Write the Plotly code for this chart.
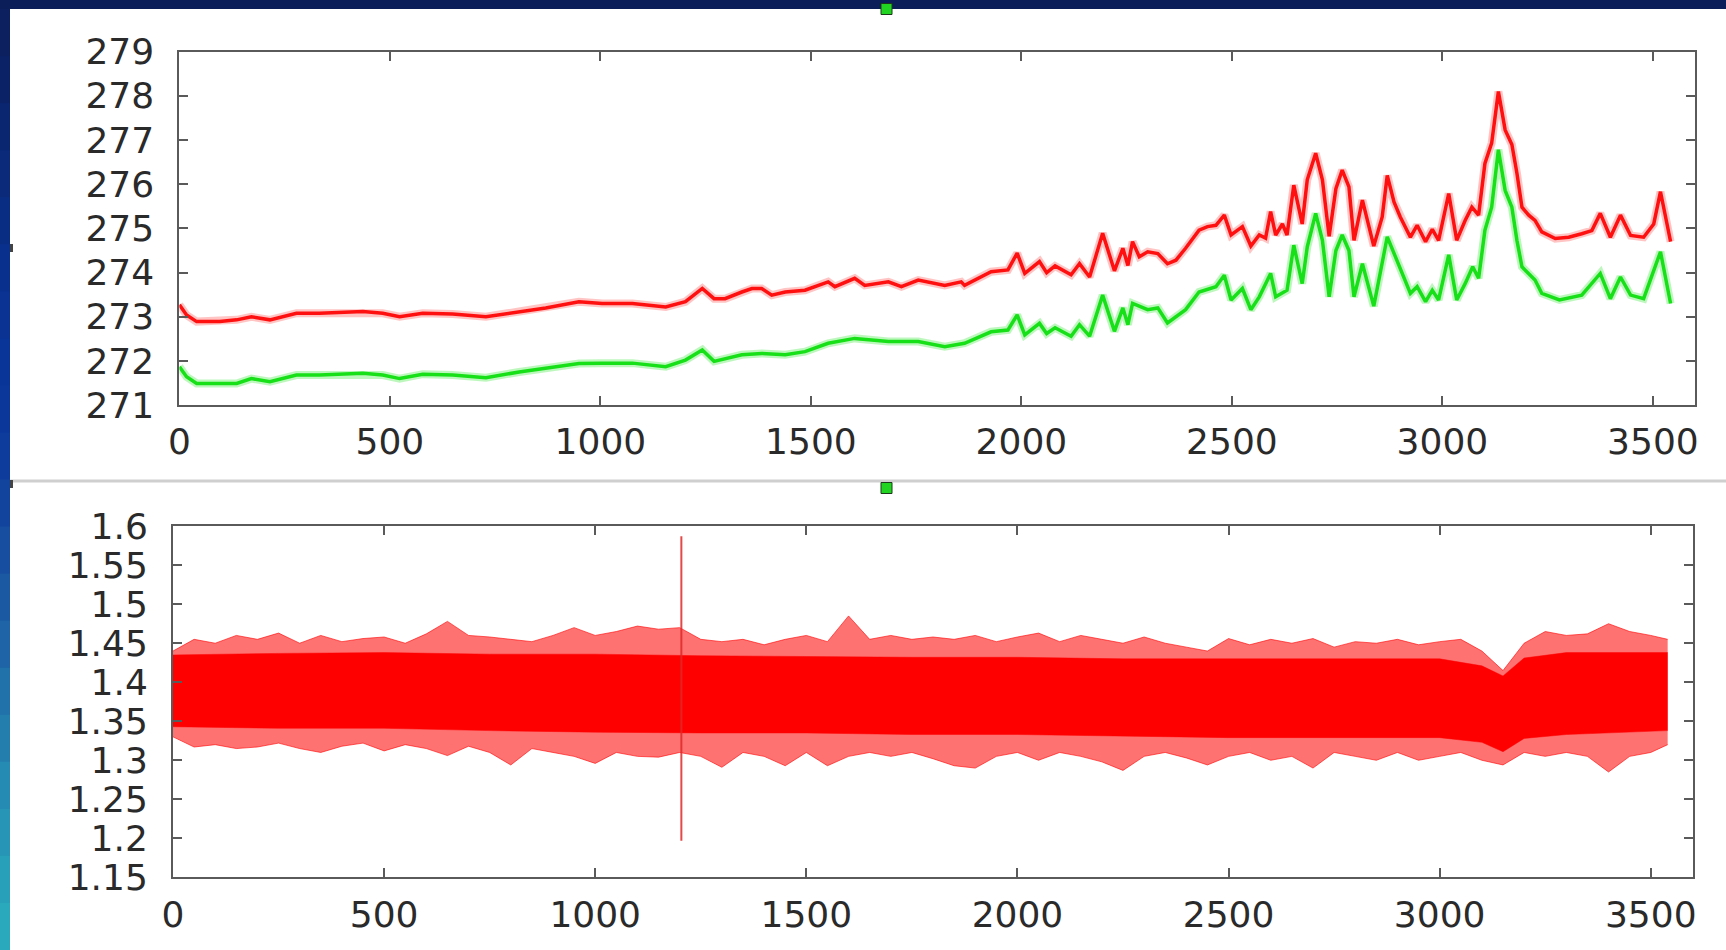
import plotly.graph_objects as go

# ---------------- data ----------------
red_x = [0, 17, 41, 96, 136, 171, 215, 278, 333, 436, 483, 523, 578, 649, 728, 807, 870, 949,
         1004, 1076, 1155, 1202, 1242, 1270, 1296, 1336, 1360, 1383, 1407, 1439, 1486, 1541, 1557,
         1604, 1628, 1684, 1715, 1755, 1818, 1857, 1865, 1928, 1968, 1990, 2008, 2043, 2060, 2080,
         2118, 2138, 2162, 2193, 2221, 2241, 2253, 2264, 2280, 2300, 2324, 2347, 2367, 2390, 2422,
         2442, 2462, 2482, 2498, 2525, 2545, 2565, 2580, 2592, 2604, 2620, 2631, 2647, 2667, 2679,
         2699, 2715, 2731, 2747, 2762, 2778, 2790, 2810, 2837, 2857, 2869, 2885, 2900, 2924, 2940,
         2960, 2976, 2991, 3015, 3034, 3054, 3070, 3086, 3101, 3117, 3133, 3149, 3165, 3177, 3189,
         3205, 3220, 3236, 3268, 3300, 3331, 3355, 3375, 3399, 3423, 3447, 3478, 3502, 3518, 3530, 3542]
red_y = [273.27, 273.04, 272.89, 272.89, 272.93, 273.0, 272.93, 273.08, 273.08, 273.12, 273.08, 273.0,
         273.08, 273.06, 273.0, 273.12, 273.2, 273.34, 273.3, 273.3, 273.22, 273.34, 273.64, 273.41,
         273.41, 273.56, 273.64, 273.64, 273.49, 273.56, 273.6, 273.79, 273.68, 273.87, 273.71, 273.79,
         273.68, 273.83, 273.71, 273.79, 273.71, 274.02, 274.06, 274.44, 273.98, 274.25, 274.0, 274.15,
         273.95, 274.2, 273.9, 274.89, 274.04, 274.55, 274.16, 274.7, 274.36, 274.47, 274.43, 274.2,
         274.28, 274.55, 274.96, 275.04, 275.07, 275.3, 274.85, 275.04, 274.6, 274.85, 274.78, 275.38,
         274.85, 275.1, 274.85, 275.98, 275.1, 276.1, 276.7, 276.1, 274.82, 275.9, 276.32, 275.94,
         274.73, 275.64, 274.6, 275.26, 276.2, 275.6, 275.26, 274.8, 275.07, 274.7, 274.98, 274.73,
         275.79, 274.73, 275.18, 275.48, 275.3, 276.47, 276.93, 278.1, 277.23, 276.9, 276.25, 275.48,
         275.3, 275.18, 274.92, 274.77, 274.8, 274.88, 274.95, 275.34, 274.8, 275.3, 274.84, 274.8,
         275.1, 275.83, 275.26, 274.7]

green_x = [0, 17, 41, 96, 136, 171, 215, 278, 333, 436, 483, 523, 578, 649, 728, 807, 870, 949,
           1004, 1076, 1155, 1202, 1242, 1270, 1336, 1383, 1439, 1486, 1541, 1604, 1684, 1755, 1818,
           1865, 1928, 1968, 1990, 2008, 2043, 2060, 2080, 2118, 2138, 2162, 2193, 2221, 2241, 2253,
           2264, 2300, 2324, 2347, 2390, 2422, 2462, 2482, 2498, 2525, 2545, 2565, 2592, 2604, 2631,
           2647, 2667, 2679, 2699, 2715, 2731, 2747, 2762, 2778, 2790, 2810, 2837, 2869, 2924, 2940,
           2960, 2976, 2991, 3015, 3034, 3054, 3072, 3086, 3101, 3117, 3133, 3149, 3165, 3177, 3189,
           3220, 3236, 3278, 3331, 3375, 3399, 3423, 3447, 3478, 3518, 3542]
green_y = [271.87, 271.64, 271.49, 271.49, 271.49, 271.6, 271.53, 271.68, 271.68, 271.72, 271.68,
           271.6, 271.7, 271.68, 271.62, 271.75, 271.83, 271.94, 271.95, 271.95, 271.87, 272.02,
           272.25, 271.99, 272.14, 272.17, 272.14, 272.21, 272.4, 272.51, 272.44, 272.44, 272.32,
           272.4, 272.66, 272.7, 273.04, 272.59, 272.85, 272.62, 272.75, 272.56, 272.82, 272.56,
           273.49, 272.67, 273.2, 272.82, 273.3, 273.16, 273.2, 272.86, 273.16, 273.56, 273.68,
           273.94, 273.38, 273.64, 273.16, 273.45, 273.98, 273.45, 273.6, 274.62, 273.75, 274.58,
           275.34, 274.73, 273.45, 274.5, 274.85, 274.5, 273.45, 274.2, 273.24, 274.81, 273.53,
           273.68, 273.34, 273.6, 273.38, 274.4, 273.38, 273.75, 274.13, 273.87, 274.96, 275.48,
           276.78, 275.86, 275.48, 274.73, 274.13, 273.83, 273.53, 273.38, 273.49, 273.98, 273.41,
           273.9, 273.49, 273.41, 274.47, 273.3]

# lower panel: noisy band, envelope
env_x = [0, 50, 100, 150, 200, 250, 300, 350, 400, 450, 500, 550, 600, 650, 700, 750, 800, 850,
         900, 950, 1000, 1050, 1100, 1150, 1200, 1250, 1300, 1350, 1400, 1450, 1500, 1550, 1600,
         1650, 1700, 1750, 1800, 1850, 1900, 1950, 2000, 2050, 2100, 2150, 2200, 2250, 2300, 2350,
         2400, 2450, 2500, 2550, 2600, 2650, 2700, 2750, 2800, 2850, 2900, 2950, 3000, 3050, 3100,
         3150, 3200, 3250, 3300, 3350, 3400, 3450, 3500, 3540]
env_hi = [1.44, 1.455, 1.45, 1.46, 1.455, 1.463, 1.45, 1.46, 1.452, 1.456, 1.458, 1.45, 1.462,
          1.478, 1.46, 1.458, 1.455, 1.452, 1.46, 1.47, 1.46, 1.465, 1.472, 1.468, 1.47, 1.455,
          1.452, 1.455, 1.448, 1.455, 1.46, 1.452, 1.485, 1.455, 1.46, 1.455, 1.458, 1.455, 1.46,
          1.452, 1.458, 1.463, 1.452, 1.46, 1.455, 1.45, 1.458, 1.45, 1.445, 1.44, 1.456, 1.448,
          1.455, 1.45, 1.456, 1.445, 1.452, 1.45, 1.455, 1.448, 1.452, 1.455, 1.44, 1.415, 1.45,
          1.465, 1.46, 1.462, 1.475, 1.465, 1.46, 1.455]
env_lo = [1.33, 1.317, 1.32, 1.315, 1.317, 1.322, 1.315, 1.31, 1.318, 1.322, 1.312, 1.32, 1.315,
          1.306, 1.318, 1.31, 1.294, 1.315, 1.31, 1.305, 1.296, 1.31, 1.305, 1.304, 1.31, 1.305,
          1.291, 1.31, 1.305, 1.293, 1.31, 1.293, 1.305, 1.31, 1.305, 1.31, 1.302, 1.293, 1.29,
          1.305, 1.31, 1.3, 1.31, 1.305, 1.298, 1.287, 1.305, 1.31, 1.303, 1.294, 1.305, 1.31, 1.3,
          1.305, 1.29, 1.31, 1.305, 1.3, 1.31, 1.3, 1.305, 1.31, 1.3, 1.294, 1.31, 1.305, 1.31,
          1.305, 1.285, 1.305, 1.31, 1.32]
core_x = [0, 250, 500, 750, 1000, 1250, 1500, 1750, 2000, 2250, 2500, 2750, 3000, 3100, 3150,
          3200, 3300, 3540]
core_hi = [1.435, 1.437, 1.438, 1.436, 1.436, 1.434, 1.433, 1.432, 1.432, 1.43, 1.43, 1.43, 1.43,
           1.421, 1.408, 1.431, 1.438, 1.438]
core_lo = [1.343, 1.341, 1.341, 1.338, 1.336, 1.335, 1.335, 1.333, 1.333, 1.331, 1.329, 1.329,
           1.329, 1.323, 1.311, 1.328, 1.333, 1.338]
spike_x = [1204, 1204]
spike_y = [1.197, 1.587]

top_ticks_y = [271, 272, 273, 274, 275, 276, 277, 278, 279]
bot_ticks_y = [1.15, 1.2, 1.25, 1.3, 1.35, 1.4, 1.45, 1.5, 1.55, 1.6]
bot_tick_text = ["1.15", "1.2", "1.25", "1.3", "1.35", "1.4", "1.45", "1.5", "1.55", "1.6"]
x_ticks = [0, 500, 1000, 1500, 2000, 2500, 3000, 3500]

# ---------------- figure ----------------
W, H = 1726, 950
fig = go.Figure()

# soft halo under each top-panel line, then the line itself
fig.add_trace(go.Scatter(x=red_x, y=red_y, mode="lines", xaxis="x", yaxis="y", hoverinfo="skip",
                         line=dict(color="rgba(255,60,60,0.30)", width=8), showlegend=False))
fig.add_trace(go.Scatter(x=green_x, y=green_y, mode="lines", xaxis="x", yaxis="y", hoverinfo="skip",
                         line=dict(color="rgba(40,230,40,0.30)", width=8), showlegend=False))
fig.add_trace(go.Scatter(x=red_x, y=red_y, mode="lines", xaxis="x", yaxis="y",
                         line=dict(color="#ff1010", width=3.5), showlegend=False))
fig.add_trace(go.Scatter(x=green_x, y=green_y, mode="lines", xaxis="x", yaxis="y",
                         line=dict(color="#18e018", width=3.5), showlegend=False))

fig.add_trace(go.Scatter(x=env_x, y=env_lo, mode="lines", xaxis="x2", yaxis="y2",
                         line=dict(color="rgba(255,0,0,0.6)", width=1), showlegend=False))
fig.add_trace(go.Scatter(x=env_x, y=env_hi, mode="lines", xaxis="x2", yaxis="y2", fill="tonexty",
                         fillcolor="rgba(255,20,20,0.6)",
                         line=dict(color="rgba(255,0,0,0.6)", width=1), showlegend=False))
fig.add_trace(go.Scatter(x=core_x, y=core_lo, mode="lines", xaxis="x2", yaxis="y2",
                         line=dict(color="#ff0000", width=0.5), showlegend=False))
fig.add_trace(go.Scatter(x=core_x, y=core_hi, mode="lines", xaxis="x2", yaxis="y2", fill="tonexty",
                         fillcolor="#ff0000", line=dict(color="#ff0000", width=0.5), showlegend=False))
fig.add_trace(go.Scatter(x=spike_x, y=spike_y, mode="lines", xaxis="x2", yaxis="y2",
                         line=dict(color="rgba(225,40,40,0.85)", width=2), showlegend=False))

tickfont = dict(family="DejaVu Sans, Liberation Sans, Arial, sans-serif", size=36, color="#2a2a2a")
axis_common = dict(showline=True, linecolor="#5a5a5a", linewidth=2, mirror="ticks",
                   ticks="inside", ticklen=9, tickwidth=2, tickcolor="#5a5a5a",
                   showgrid=False, zeroline=False, tickfont=tickfont, automargin=False)

def px_x(p):
    return p / W

def px_y(p):
    return 1 - p / H

fig.update_layout(
    width=W, height=H, margin=dict(l=0, r=0, t=0, b=0, pad=0), autosize=False,
    paper_bgcolor="#0b1e5a", plot_bgcolor="rgba(0,0,0,0)",
    xaxis=dict(domain=[px_x(179.4), px_x(1695)], range=[0, 3600], tickvals=x_ticks,
               anchor="y", ticklabelstandoff=4, **axis_common),
    yaxis=dict(domain=[px_y(405.1), px_y(51.7)], range=[271, 279], tickvals=top_ticks_y,
               anchor="x", ticklabelstandoff=16, **axis_common),
    xaxis2=dict(domain=[px_x(173), px_x(1693)], range=[0, 3600], tickvals=x_ticks,
                anchor="y2", ticklabelstandoff=4, **axis_common),
    yaxis2=dict(domain=[px_y(877.3), px_y(526.2)], range=[1.15, 1.6], tickvals=bot_ticks_y,
                ticktext=bot_tick_text, anchor="x2", ticklabelstandoff=16, **axis_common),
)

shapes = []
# white slide panel
shapes.append(dict(type="rect", xref="paper", yref="paper", x0=px_x(10), x1=1, y0=0, y1=px_y(9),
                   fillcolor="white", line=dict(width=0), layer="below"))
# left gradient strip (navy -> blue -> teal)
grad = ["#0c1f5e", "#0c2267", "#0b2670", "#0b2a7a", "#0a2d84", "#0a308d", "#0a3394", "#0a3598",
        "#0b379b", "#0e3c9c", "#12449d", "#174e9f", "#1b59a2", "#1f64a6", "#2171aa", "#237eae",
        "#258bb2", "#2796b6", "#29a0b9", "#2aa8bc"]
n = len(grad)
for i, c in enumerate(grad):
    y0p = 9 + (H - 9) * i / n
    y1p = 9 + (H - 9) * (i + 1) / n + 1
    shapes.append(dict(type="rect", xref="paper", yref="paper", x0=0, x1=px_x(10),
                       y0=px_y(min(y1p, H)), y1=px_y(y0p), fillcolor=c, line=dict(width=0),
                       layer="below"))
# separator between the two plots
shapes.append(dict(type="line", xref="paper", yref="paper", x0=px_x(10), x1=1,
                   y0=px_y(481), y1=px_y(481), line=dict(color="#cfcfcf", width=3), layer="below"))
# green handles
for cy in (9, 488):
    shapes.append(dict(type="rect", xref="paper", yref="paper", x0=px_x(881), x1=px_x(892),
                       y0=px_y(cy + 5.5), y1=px_y(cy - 5.5), fillcolor="#22d422",
                       line=dict(color="#1a3a1a", width=1)))
# small marks at left edge
for my in (248, 484):
    shapes.append(dict(type="rect", xref="paper", yref="paper", x0=px_x(10), x1=px_x(13),
                       y0=px_y(my + 4), y1=px_y(my - 4), fillcolor="#444", line=dict(width=0)))
fig.update_layout(shapes=shapes)

fig.write_html("out.html")
